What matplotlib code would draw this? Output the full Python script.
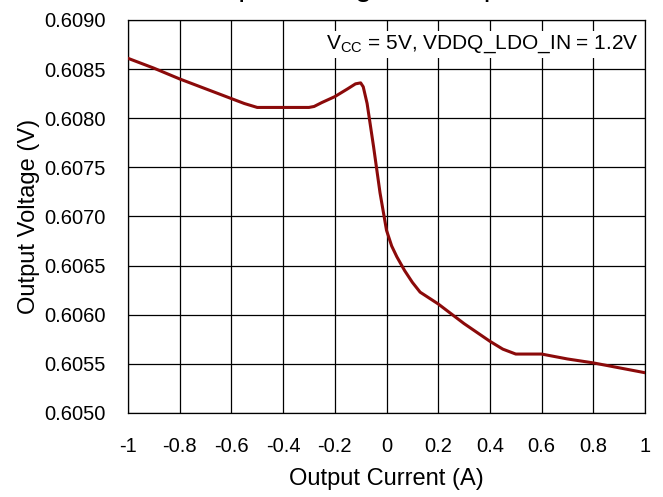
import matplotlib
matplotlib.use('Agg')
import matplotlib.pyplot as plt
import numpy as np

plt.rcParams['font.family'] = ['Liberation Sans', 'DejaVu Sans']

# data
current = [-1.0, -0.9, -0.8, -0.7, -0.6, -0.55, -0.5, -0.4, -0.3, -0.28, -0.25, -0.2,
           -0.15, -0.12, -0.1, -0.09, -0.075, -0.05, -0.025, 0.0, 0.02, 0.04,
           0.07, 0.1, 0.13, 0.2, 0.3, 0.4, 0.45, 0.5, 0.6, 0.7, 0.8, 0.9, 1.0]
voltage = [0.60861, 0.60851, 0.60840, 0.60830, 0.60820, 0.60815, 0.60811, 0.60811,
           0.60811, 0.60812, 0.60816, 0.60822, 0.60830, 0.60835, 0.60836, 0.60832,
           0.60815, 0.60771, 0.60724, 0.60686, 0.60670, 0.60659, 0.60645, 0.60633,
           0.60623, 0.60611, 0.60591, 0.60573, 0.60565, 0.60560, 0.60560, 0.60555,
           0.60551, 0.60546, 0.60541]
xticks = [-1, -0.8, -0.6, -0.4, -0.2, 0, 0.2, 0.4, 0.6, 0.8, 1]
xlabels = ['-1', '-0.8', '-0.6', '-0.4', '-0.2', '0', '0.2', '0.4', '0.6', '0.8', '1']
yticks = [0.6050, 0.6055, 0.6060, 0.6065, 0.6070, 0.6075, 0.6080, 0.6085, 0.6090]

fig = plt.figure(figsize=(6.63, 4.97), dpi=100)
ax = fig.add_axes([128/663, 1-413/497, 517/663, 393/497])
ax.plot(current, voltage, color='#8B0A0A', lw=2.2, zorder=3)
ax.set_xlim(-1, 1)
ax.set_ylim(0.6050, 0.6090)
ax.set_xticks(xticks)
ax.set_xticklabels(xlabels)
ax.set_yticks(yticks)
ax.set_yticklabels(['%.4f' % v for v in yticks])
ax.grid(True, color='black', lw=0.9)
ax.tick_params(length=0, labelsize=14.5)
ax.tick_params(axis='x', pad=17)
ax.tick_params(axis='y', pad=16)
for s in ax.spines.values():
    s.set_linewidth(0.9)
ax.set_xlabel('Output Current (A)', fontsize=17, labelpad=9)
ax.set_ylabel('Output Voltage (V)', fontsize=17, labelpad=3)

ax.text(0.988, 0.965, r'V$_{\mathregular{CC}}$ = 5V, VDDQ_LDO_IN = 1.2V',
        transform=ax.transAxes, ha='right', va='top', fontsize=15,
        bbox=dict(facecolor='white', edgecolor='none', pad=2), zorder=4)

# title clipped by the top edge in the reference
fig.text(190/663, 1 + 3.5/497, 'Output Voltage vs Output Current',
         ha='left', va='baseline', fontsize=21.6)

fig.savefig('out.png', dpi=100)
